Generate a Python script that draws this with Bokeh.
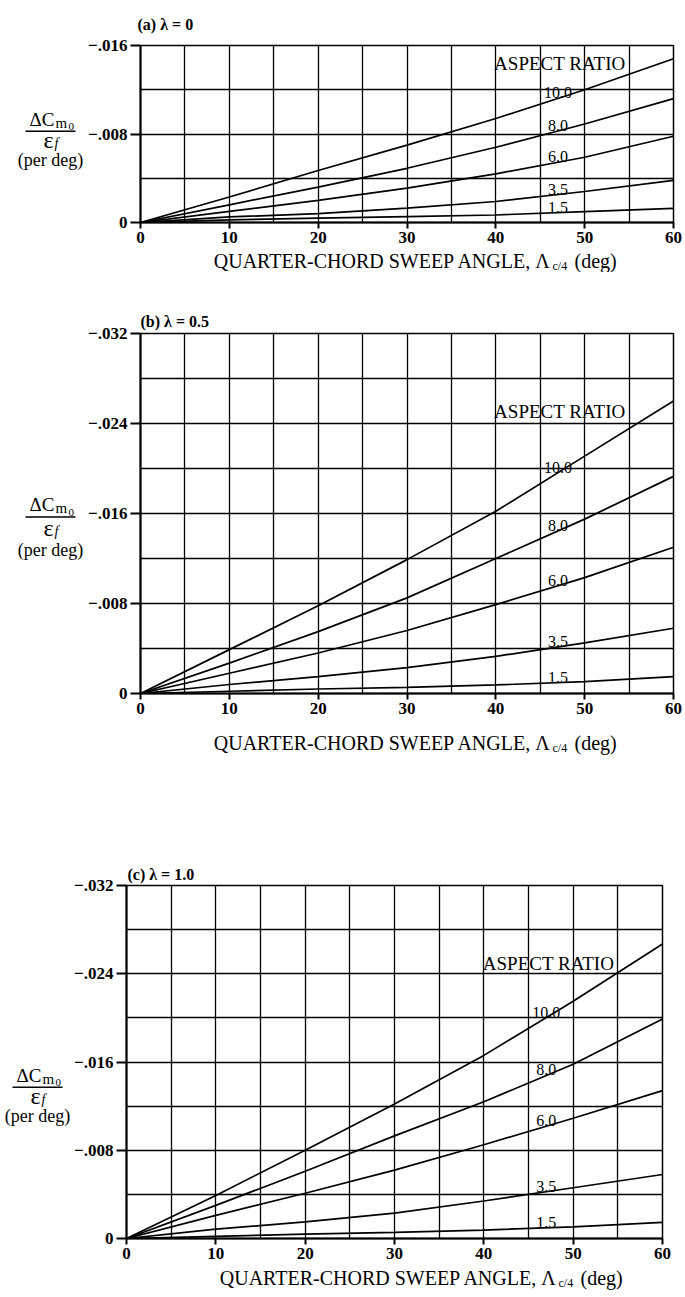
import numpy as np
from bokeh.plotting import figure
from bokeh.layouts import column, row
from bokeh.models import Range1d, FixedTicker, CustomJSTickFormatter
from bokeh.core.properties import value
from bokeh.embed import file_html
from bokeh.resources import INLINE

# ---------------- data ----------------
sweep = [0, 10, 20, 30, 40, 50, 60]
aspect_ratios = ["10.0", "8.0", "6.0", "3.5", "1.5"]

# (a) taper ratio 0
a_ar10 = [0, -0.0023, -0.0047, -0.0070, -0.0094, -0.0120, -0.0148]
a_ar8 = [0, -0.0016, -0.0032, -0.0049, -0.0068, -0.0089, -0.0112]
a_ar6 = [0, -0.0010, -0.0020, -0.0031, -0.0044, -0.0059, -0.0078]
a_ar35 = [0, -0.0005, -0.0008, -0.0013, -0.0019, -0.0028, -0.0038]
a_ar15 = [0, -0.00024, -0.0004, -0.00054, -0.00068, -0.00098, -0.00128]

# (b) taper ratio 0.5
b_ar10 = [0, -0.0039, -0.0078, -0.0119, -0.0162, -0.0211, -0.0260]
b_ar8 = [0, -0.0027, -0.0055, -0.0085, -0.0120, -0.0155, -0.0193]
b_ar6 = [0, -0.0018, -0.0036, -0.0056, -0.0079, -0.0103, -0.0130]
b_ar35 = [0, -0.0008, -0.0015, -0.0023, -0.0033, -0.0045, -0.0058]
b_ar15 = [0, -0.0002, -0.0004, -0.00055, -0.00076, -0.00106, -0.0015]

# (c) taper ratio 1.0
c_ar10 = [0, -0.0039, -0.0080, -0.0122, -0.0166, -0.0215, -0.0267]
c_ar8 = [0, -0.0030, -0.0061, -0.0093, -0.0124, -0.0158, -0.0199]
c_ar6 = [0, -0.0021, -0.0041, -0.0062, -0.0085, -0.0109, -0.0134]
c_ar35 = [0, -0.00085, -0.0015, -0.0023, -0.0034, -0.0046, -0.0058]
c_ar15 = [0, -0.0002, -0.0004, -0.00055, -0.00076, -0.00106, -0.00146]

panel_titles = ["(a)  \u03bb = 0", "(b)  \u03bb = 0.5", "(c)  \u03bb = 1.0"]
x_ticks = [0, 10, 20, 30, 40, 50, 60]
x_grid = [0, 5, 10, 15, 20, 25, 30, 35, 40, 45, 50, 55, 60]
a_y_ticks = [0, -0.008, -0.016]
a_y_grid = [0, -0.004, -0.008, -0.012, -0.016]
bc_y_ticks = [0, -0.008, -0.016, -0.024, -0.032]
bc_y_grid = [0, -0.004, -0.008, -0.012, -0.016, -0.020, -0.024, -0.028, -0.032]

FONT = "Liberation Serif"
PAGE_W = 685


def blank_fig(w, h):
    f = figure(width=w, height=h, output_backend="svg", toolbar_location=None,
               x_range=Range1d(0, w), y_range=Range1d(h, 0),
               x_axis_location=None, y_axis_location=None, min_border=0)
    f.outline_line_color = None
    f.background_fill_color = "white"
    f.border_fill_color = "white"
    f.xgrid.visible = False
    f.ygrid.visible = False
    return f


def put(f, x, y, text, size, align="left", style="normal"):
    f.text(x=[x], y=[y], text=[text], text_align=align, text_baseline="middle",
           text_font=value(FONT), text_font_size=size, text_font_style=style,
           text_color="black")


def make_panel(title, series, y_end, y_ticks, y_grid, label_tick,
               left_w, frame_left, frame_w, top, frame_top, frame_h, bottom_h,
               ylab_xc, title_offset, title_standoff, xtitle_y, lam_x, ar_y):
    bb = 28
    bt = frame_top - top
    hm = bt + frame_h + bb
    main_w = PAGE_W - left_w
    bl = frame_left - left_w
    br = main_w - bl - frame_w

    p = figure(width=main_w, height=hm, output_backend="svg", toolbar_location=None,
               x_range=Range1d(0, 60), y_range=Range1d(0, y_end), title=title,
               min_border_left=bl, min_border_right=br,
               min_border_top=bt, min_border_bottom=bb)
    p.background_fill_color = "white"
    p.border_fill_color = "white"
    p.outline_line_color = "black"
    p.outline_line_width = 1.5
    p.title.text_font = FONT
    p.title.text_font_size = "16px"
    p.title.text_font_style = "bold"
    p.title.text_color = "black"
    p.title.align = "left"
    p.title.offset = title_offset
    p.title.standoff = title_standoff

    # grid
    p.xgrid.ticker = FixedTicker(ticks=x_grid)
    p.ygrid.ticker = FixedTicker(ticks=y_grid)
    p.grid.grid_line_color = "black"
    p.grid.grid_line_width = 1.3
    p.grid.grid_line_alpha = 1.0

    # axes
    fmt = CustomJSTickFormatter(code="""
        if (Math.abs(tick) < 1e-9) { return '0'; }
        return '\u2212' + Math.abs(tick).toFixed(3).slice(1);
    """)
    p.xaxis.ticker = FixedTicker(ticks=x_ticks)
    p.yaxis.ticker = FixedTicker(ticks=y_ticks)
    p.yaxis.formatter = fmt
    for ax in (p.xaxis, p.yaxis):
        ax.axis_line_width = 2
        ax.axis_line_color = "black"
        ax.major_tick_line_color = "black"
        ax.major_tick_line_width = 2
        ax.major_tick_in = 0
        ax.minor_tick_line_color = None
        ax.major_label_text_font = FONT
        ax.major_label_text_font_size = "17px"
        ax.major_label_text_font_style = "bold"
        ax.major_label_text_color = "black"
    p.xaxis.major_tick_out = 6
    p.xaxis.major_label_standoff = 3
    p.yaxis.major_tick_out = 10
    p.yaxis.major_label_standoff = 3

    # curves
    lab_x = 47.0
    lab_y = []
    for vals in series:
        p.line(sweep, vals, line_color="black", line_width=1.7)
        lab_y.append(float(np.interp(lab_x, sweep, vals)))
    p.text(x=[lab_x] * len(series), y=lab_y, text=aspect_ratios,
           text_align="center", text_baseline="bottom",
           text_font=value(FONT), text_font_size="16px", text_color="black")
    p.text(x=[54.6], y=[ar_y], text=["ASPECT RATIO"], text_align="right",
           text_baseline="middle", text_font=value(FONT), text_font_size="19px",
           text_color="black")

    # left strip with the y-axis label (fraction)
    lf = blank_fig(left_w, hm)
    ty = bt + frame_h - (label_tick / y_end) * frame_h
    xc = ylab_xc
    put(lf, xc + 4, ty - 28, "\u0394C", "19px", "right")
    put(lf, xc + 5, ty - 23, "m", "15px", "left")
    put(lf, xc + 18, ty - 18, "0", "11px", "left")
    lf.segment(x0=[xc - 25], y0=[ty - 12], x1=[xc + 25], y1=[ty - 12],
               line_color="black", line_width=1.5)
    put(lf, xc + 3, ty + 1, "\u03b5", "24px", "right")
    put(lf, xc + 4, ty + 6, "f", "14px", "left", "italic")
    put(lf, xc, ty + 29, "(per deg)", "18px", "center")

    # bottom strip with the x-axis title
    bf = blank_fig(PAGE_W, bottom_h)
    put(bf, lam_x, xtitle_y, "QUARTER-CHORD SWEEP ANGLE, \u039b", "20px", "right")
    put(bf, lam_x + 1, xtitle_y + 5, "c/4", "12px", "left")
    put(bf, lam_x + 23, xtitle_y, "(deg)", "20px", "left")

    return column(row(lf, p, spacing=0), bf, spacing=0)


# panel (a): page rows 0..272
pa = make_panel(panel_titles[0], [a_ar10, a_ar8, a_ar6, a_ar35, a_ar15], -0.016,
                a_y_ticks, a_y_grid, -0.008,
                left_w=84, frame_left=140, frame_w=533,
                top=0, frame_top=44, frame_h=178, bottom_h=22,
                ylab_xc=50, title_offset=-3, title_standoff=26,
                xtitle_y=10, lam_x=551, ar_y=-0.0144)
# panel (b): page rows 272..761
pb = make_panel(panel_titles[1], [b_ar10, b_ar8, b_ar6, b_ar35, b_ar15], -0.032,
                bc_y_ticks, bc_y_grid, -0.016,
                left_w=84, frame_left=140, frame_w=533,
                top=272, frame_top=333, frame_h=360, bottom_h=40,
                ylab_xc=50, title_offset=0, title_standoff=7,
                xtitle_y=21, lam_x=551, ar_y=-0.0251)
# panel (c): page rows 761..1295
pc = make_panel(panel_titles[2], [c_ar10, c_ar8, c_ar6, c_ar35, c_ar15], -0.032,
                bc_y_ticks, bc_y_grid, -0.016,
                left_w=71, frame_left=124, frame_w=538,
                top=761, frame_top=885, frame_h=353, bottom_h=29,
                ylab_xc=37, title_offset=1, title_standoff=6,
                xtitle_y=11, lam_x=557, ar_y=-0.0249)

layout = column(pa, pb, pc, spacing=0)
open("out.html", "w").write(file_html(layout, INLINE))
